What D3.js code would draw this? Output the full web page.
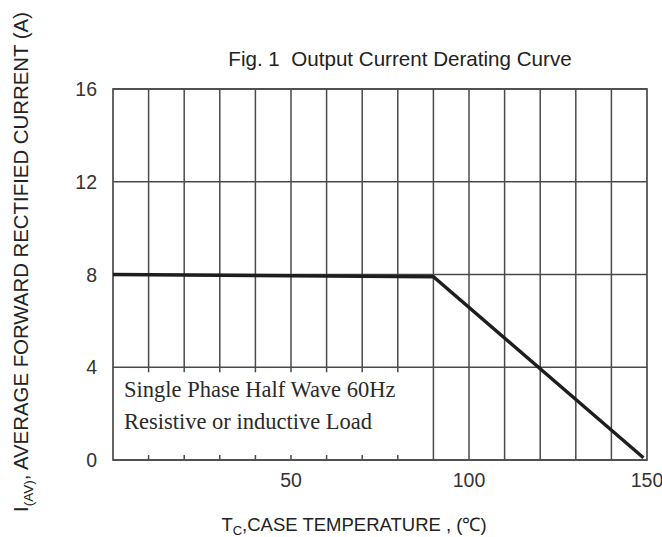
<!DOCTYPE html>
<html><head><meta charset="utf-8">
<script src="https://cdn.jsdelivr.net/npm/d3@7"></script>
<style>body{margin:0;background:#fff}</style>
</head><body>
<svg id="c" width="662" height="537"></svg>
<script>
const xTicks = [50, 100, 150];
const yTicks = [0, 4, 8, 12, 16];
const xGrid = [10,20,30,40,50,60,70,80,90,100,110,120,130,140];
const curveT = [0, 90, 149];
const curveI = [8.0, 7.9, 0.1];
const noteLines = ["Single Phase Half Wave 60Hz", "Resistive or inductive Load"];

const svg = d3.select("#c");
const x = d3.scaleLinear().domain([0,150]).range([113,647]);
const y = d3.scaleLinear().domain([0,16]).range([460,89]);
const gridCol = "#4a4a4a";
const g = svg.append("g");

// horizontal grid
g.selectAll(".hg").data(yTicks).join("line")
  .attr("x1", x(0)).attr("x2", x(150))
  .attr("y1", d=>y(d)).attr("y2", d=>y(d))
  .attr("stroke", gridCol).attr("stroke-width", 1.5);
// vertical grid
g.selectAll(".vg").data(xGrid).join("line")
  .attr("x1", d=>x(d)).attr("x2", d=>x(d))
  .attr("y1", y(16)).attr("y2", d=> d<90 ? y(4) : y(0))
  .attr("stroke", gridCol).attr("stroke-width", 1.5);
// tick stubs in annotation region
g.selectAll(".tb").data(xGrid.filter(d=>d<90)).join("line")
  .attr("x1", d=>x(d)).attr("x2", d=>x(d))
  .attr("y1", y(0)).attr("y2", y(0)-5)
  .attr("stroke", gridCol).attr("stroke-width", 1.5);
g.selectAll(".tt").data(xGrid.filter(d=>d<90)).join("line")
  .attr("x1", d=>x(d)).attr("x2", d=>x(d))
  .attr("y1", y(4)).attr("y2", y(4)+5)
  .attr("stroke", gridCol).attr("stroke-width", 1.5);
// frame
g.append("rect").attr("x", x(0)).attr("y", y(16))
  .attr("width", x(150)-x(0)).attr("height", y(0)-y(16))
  .attr("fill","none").attr("stroke", gridCol).attr("stroke-width", 1.7);

// curve
const pts = curveT.map((t,i)=>[t, curveI[i]]);
g.append("path").datum(pts)
  .attr("d", d3.line().x(d=>x(d[0])).y(d=>y(d[1])))
  .attr("fill","none").attr("stroke","#1e1e1e").attr("stroke-width",3.4)
  .attr("stroke-linecap","butt");

// tick labels
const tf = "Liberation Sans, Arial, sans-serif";
svg.selectAll(".yl").data(yTicks).join("text")
  .attr("x", 97).attr("y", d=>y(d)).attr("dy","0.36em")
  .attr("text-anchor","end").attr("font-family", tf).attr("font-size", 19.5)
  .attr("fill","#333").text(d=>d);
svg.selectAll(".xl").data(xTicks).join("text")
  .attr("x", d=>x(d)).attr("y", 487)
  .attr("text-anchor","middle").attr("font-family", tf).attr("font-size", 19.5)
  .attr("fill","#333").text(d=>d);

// title
svg.append("text").attr("x", 400).attr("y", 66).attr("text-anchor","middle")
  .attr("font-family", tf).attr("font-size", 20.6).attr("fill","#222")
  .attr("xml:space","preserve").text("Fig. 1  Output Current Derating Curve");

// x axis label
const xl = svg.append("text").attr("x", 354).attr("y", 531).attr("text-anchor","middle")
  .attr("font-family", tf).attr("font-size", 18.5).attr("fill","#222");
xl.append("tspan").text("T");
xl.append("tspan").attr("font-size", 13).attr("dy", 4).text("C");
xl.append("tspan").attr("dy", -4).text(",CASE TEMPERATURE , (℃)");

// y axis label
const yl = svg.append("text").attr("transform","translate(28,262) rotate(-90)")
  .attr("text-anchor","middle").attr("font-family", tf).attr("font-size", 20.4).attr("fill","#222");
yl.append("tspan").text("I");
yl.append("tspan").attr("font-size", 13.5).attr("dy", 5).text("(AV)");
yl.append("tspan").attr("dy", -5).text(", AVERAGE FORWARD RECTIFIED CURRENT (A)");

// annotation
svg.selectAll(".note").data(noteLines).join("text")
  .attr("x", 124).attr("y", (d,i)=> 397 + i*32)
  .attr("font-family","Liberation Serif, Times New Roman, serif").attr("font-size", 22.5)
  .attr("fill","#2a2a2a").text(d=>d);
</script>
</body></html>
